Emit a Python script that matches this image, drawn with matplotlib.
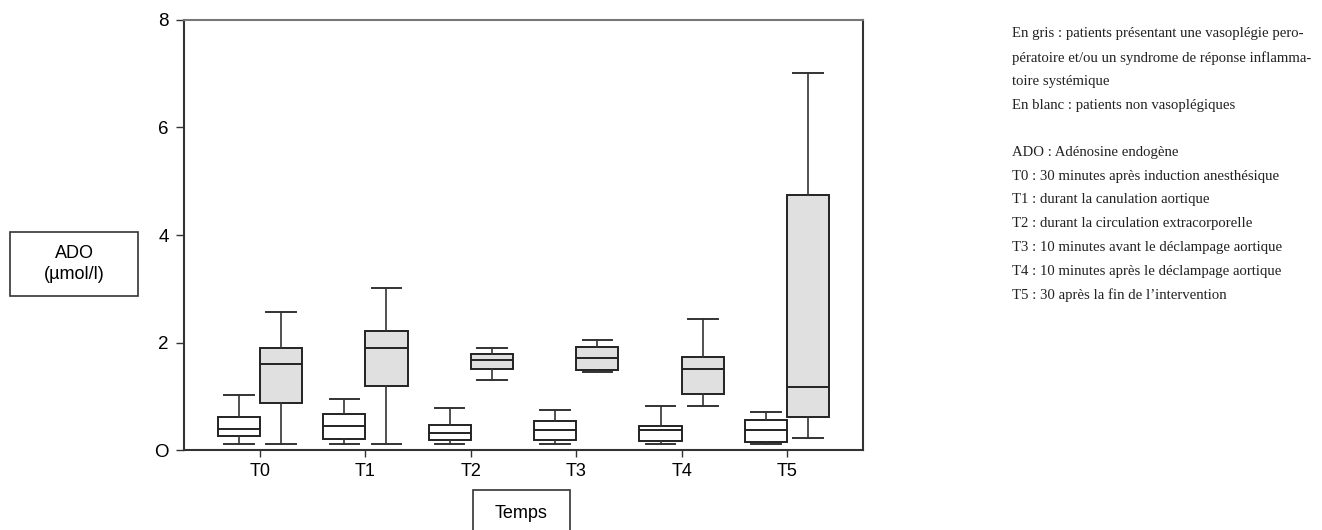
import matplotlib.pyplot as plt
from matplotlib.patches import Rectangle

# ADO (umol/l) by time point: five-number summaries
times = ["T0", "T1", "T2", "T3", "T4", "T5"]

# white: non-vasoplegic patients
white_low = [0.11, 0.11, 0.11, 0.11, 0.11, 0.11]
white_q1 = [0.26, 0.21, 0.19, 0.19, 0.17, 0.15]
white_med = [0.40, 0.44, 0.31, 0.37, 0.37, 0.38]
white_q3 = [0.61, 0.67, 0.46, 0.54, 0.44, 0.55]
white_high = [1.02, 0.94, 0.78, 0.75, 0.81, 0.70]

# grey: vasoplegic / SIRS patients
grey_low = [0.11, 0.11, 1.30, 1.46, 0.81, 0.23]
grey_q1 = [0.87, 1.20, 1.51, 1.48, 1.05, 0.61]
grey_med = [1.60, 1.90, 1.67, 1.71, 1.51, 1.18]
grey_q3 = [1.89, 2.21, 1.78, 1.92, 1.73, 4.74]
grey_high = [2.57, 3.02, 1.90, 2.05, 2.44, 7.02]

legend_lines = [
    "En gris : patients présentant une vasoplégie pero-",
    "pératoire et/ou un syndrome de réponse inflamma-",
    "toire systémique",
    "En blanc : patients non vasoplégiques",
    "",
    "ADO : Adénosine endogène",
    "T0 : 30 minutes après induction anesthésique",
    "T1 : durant la canulation aortique",
    "T2 : durant la circulation extracorporelle",
    "T3 : 10 minutes avant le déclampage aortique",
    "T4 : 10 minutes après le déclampage aortique",
    "T5 : 30 après la fin de l\u2019intervention",
]


def make_stats(low, q1, med, q3, high):
    return [dict(whislo=a, q1=b, med=c, q3=d, whishi=e, fliers=[])
            for a, b, c, d, e in zip(low, q1, med, q3, high)]


plt.rcParams['font.family'] = 'Liberation Sans'

fig = plt.figure(figsize=(13.22, 5.30), dpi=100)
ax = fig.add_axes([0.1392, 0.1509, 0.5136, 0.8114])

pos = list(range(1, len(times) + 1))
edge = '#222222'
common = dict(widths=0.40, showfliers=False, patch_artist=True,
              whiskerprops=dict(color='#333333', lw=1.2),
              capprops=dict(color='#333333', lw=1.4),
              medianprops=dict(color=edge, lw=1.4))

ax.bxp(make_stats(white_low, white_q1, white_med, white_q3, white_high),
       positions=[p - 0.2 for p in pos], capwidths=0.28,
       boxprops=dict(facecolor='white', edgecolor=edge, lw=1.4), **common)
ax.bxp(make_stats(grey_low, grey_q1, grey_med, grey_q3, grey_high),
       positions=[p + 0.2 for p in pos], capwidths=0.28,
       boxprops=dict(facecolor='#e0e0e1', edgecolor=edge, lw=1.4), **common)

ax.set_xlim(0.28, 6.72)
ax.set_ylim(0, 8)
ax.set_xticks(pos)
ax.set_xticklabels(times, fontsize=13)
ax.set_yticks([0, 2, 4, 6, 8])
ax.set_yticklabels(['O', '2', '4', '6', '8'], fontsize=13.5)
ax.tick_params(axis='y', length=6, width=1, pad=5, color='#333333')
ax.tick_params(axis='x', length=5, width=1, pad=4, color='#333333')
for side in ['left', 'bottom', 'right']:
    ax.spines[side].set_color('#333333')
    ax.spines[side].set_linewidth(1.5)
ax.spines['top'].set_color('#777777')
ax.spines['top'].set_linewidth(1.5)

# boxed axis labels
fig.patches.append(Rectangle((10 / 1322, 1 - 296 / 530), 128 / 1322, 64 / 530,
                             transform=fig.transFigure, fill=False,
                             edgecolor='#333333', lw=1.2))
fig.text(74 / 1322, 1 - 264 / 530, "ADO\n(\u00b5mol/l)", ha='center', va='center',
         fontsize=13, linespacing=1.25)
fig.patches.append(Rectangle((473 / 1322, -0.05), 97 / 1322, 1 - 490 / 530 + 0.05,
                             transform=fig.transFigure, fill=False,
                             edgecolor='#333333', lw=1.2))
fig.text(521 / 1322, 1 - 513 / 530, "Temps", ha='center', va='center', fontsize=13)

# explanatory notes on the right
for i, line in enumerate(legend_lines):
    fig.text(1012 / 1322, 1 - (34 + i * 23.7) / 530, line, ha='left', va='center',
             fontsize=10.6, family='Liberation Serif', color='#222222')

fig.savefig('out.png', dpi=100)
